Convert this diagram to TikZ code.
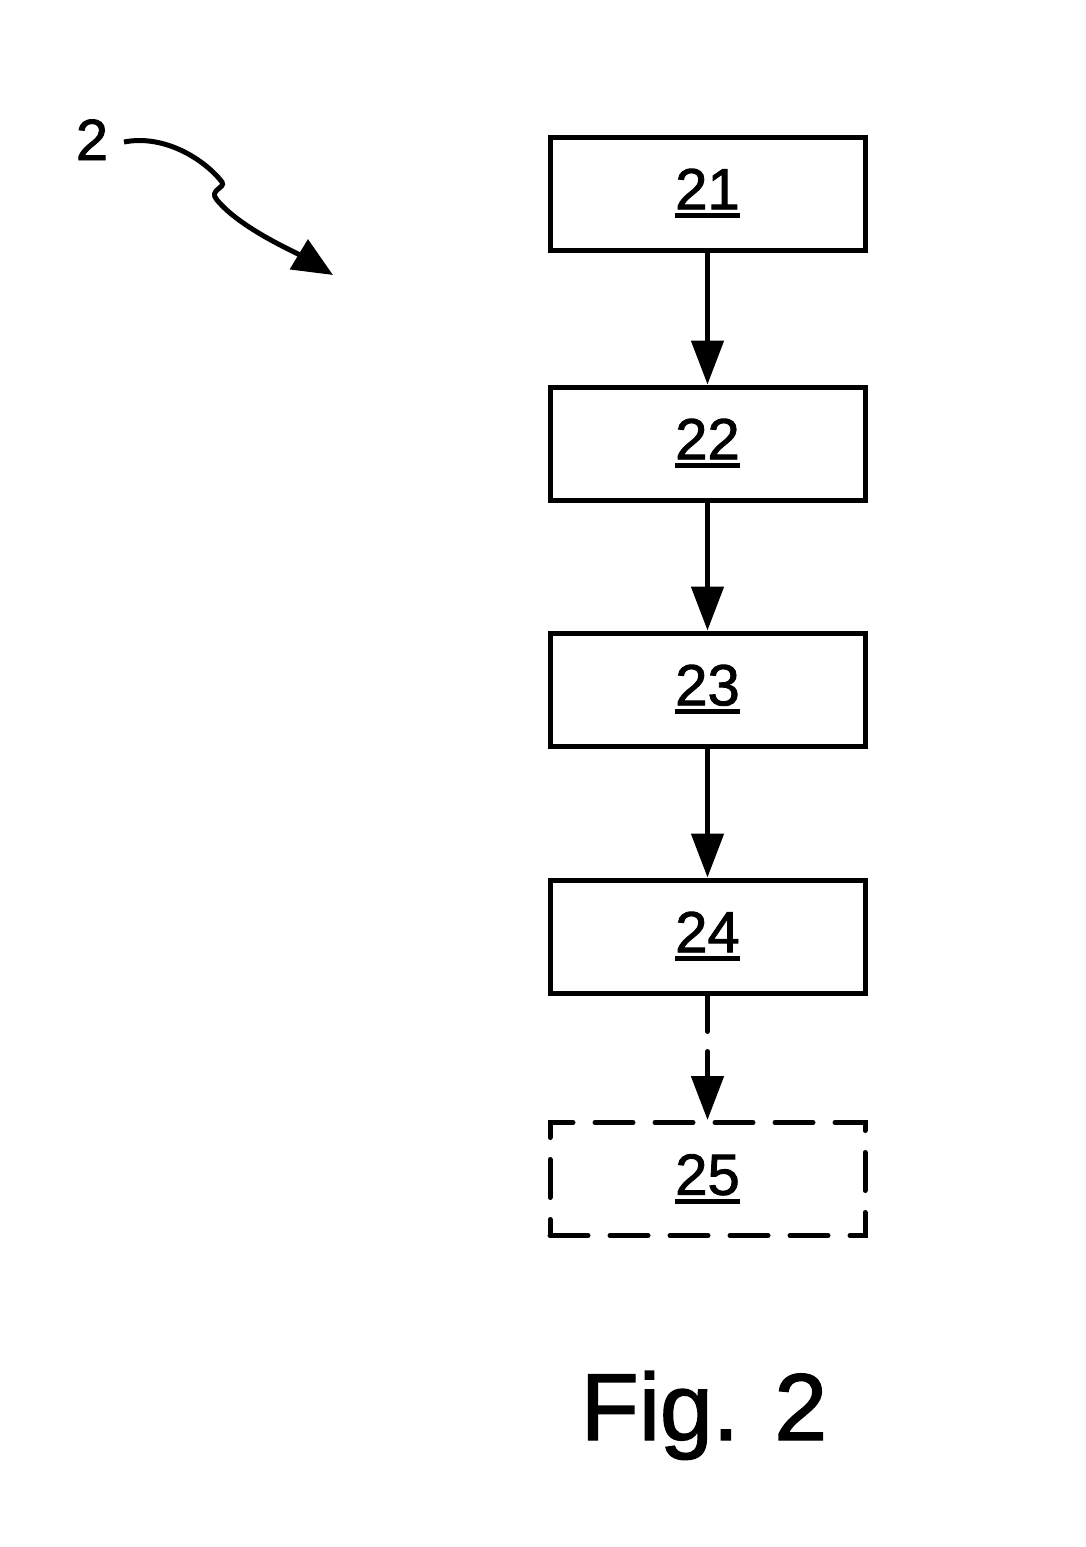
\documentclass[tikz,border=0pt]{standalone}
\usepackage{fontspec}
\setmainfont{Liberation Sans}[RawFeature={embolden=1.5}]
\usetikzlibrary{arrows.meta}

\newcommand{\refnum}[1]{\setbox0\hbox{#1}\rlap{\rule[-9pt]{\wd0}{5pt}}\box0}

\begin{document}
\begin{tikzpicture}[x=1pt, y=-1pt,
  box/.style={draw, line width=5pt, inner sep=0pt,
              minimum width=315pt, minimum height=113pt,
              font=\fontsize{58}{60}\selectfont},
  optbox/.style={box, line cap=round, dash pattern=on 38pt off 22pt},
  arr/.style={-{Triangle[length=44pt, width=32pt]}, line width=5pt},
  optarr/.style={arr, line cap=round, dash pattern=on 36pt off 20pt},
]
  \useasboundingbox (0,0) rectangle (1086,1547);

  \node[font=\fontsize{58}{60}\selectfont, inner sep=0pt, anchor=base] (lbl) at (92,160) {2};
  \coordinate (s) at (124,142);
  \coordinate (tip) at (333,275);

  \node[box] (b21) at (707.5,193.5)  {\refnum{21}};
  \node[box] (b22) at (707.5,443.5)  {\refnum{22}};
  \node[box] (b23) at (707.5,689.5)  {\refnum{23}};
  \node[box] (b24) at (707.5,936.5)  {\refnum{24}};
  \node[optbox] (b25) at (707.5,1179) {\refnum{25}};

  \node[font=\fontsize{95}{100}\selectfont, inner sep=0pt, anchor=base] (fig) at (704,1440) {Fig. 2};

  \draw[-{Triangle[length=40pt, width=34pt]}, line width=5pt]
    (s) .. controls (165,134) and (205,160) .. (222,182)
        .. controls (226,188) and (208,190) .. (217,200)
        .. controls (240,228) and (295,252) .. (tip);

  \draw[arr] (b21) -- (b22);
  \draw[arr] (b22) -- (b23);
  \draw[arr] (b23) -- (b24);
  \draw[optarr] (b24) -- (b25);
\end{tikzpicture}
\end{document}
